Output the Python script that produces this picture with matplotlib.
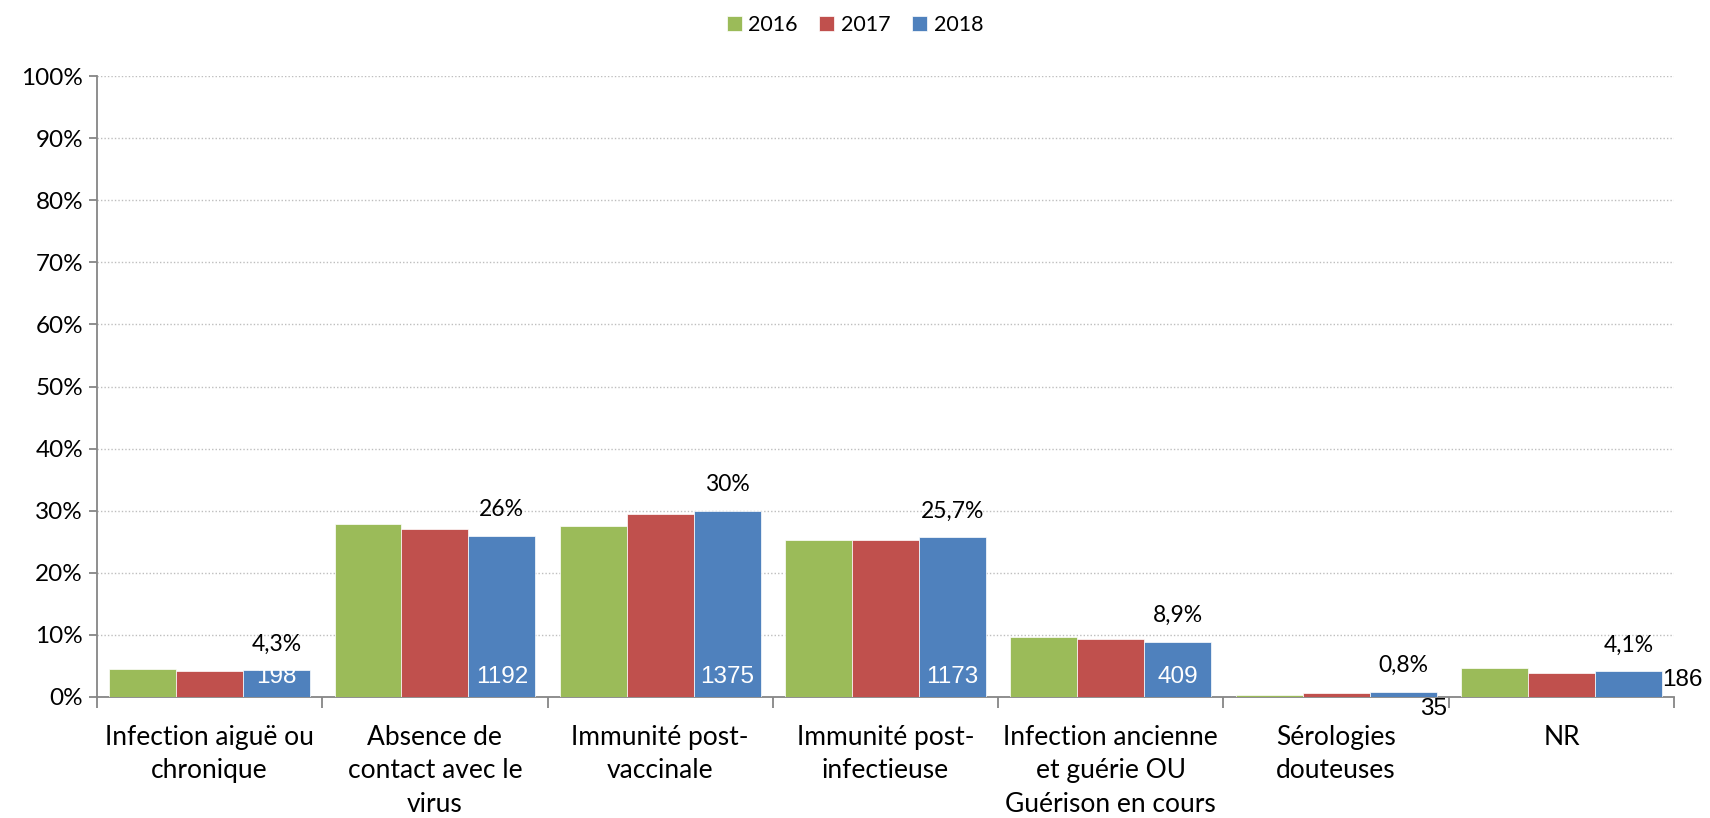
import matplotlib
matplotlib.use("Agg")
from matplotlib import pyplot as plt
import numpy as np

categories = ["Infection aiguë ou\nchronique", "Absence de\ncontact avec le\nvirus",
              "Immunité post-\nvaccinale", "Immunité post-\ninfectieuse",
              "Infection ancienne\net guérie OU\nGuérison en cours",
              "Sérologies\ndouteuses", "NR"]
years = ["2016", "2017", "2018"]
y2016 = [4.5, 27.8, 27.6, 25.2, 9.6, 0.3, 4.7]
y2017 = [4.2, 27.1, 29.5, 25.2, 9.3, 0.6, 3.8]
y2018 = [4.3, 26.0, 30.0, 25.7, 8.9, 0.8, 4.1]
pct_labels = ["4,3%", "26%", "30%", "25,7%", "8,9%", "0,8%", "4,1%"]
counts = ["198", "1192", "1375", "1173", "409", "35", "186"]

colors = ["#9BBB59", "#C0504D", "#4F81BD"]
# where the count label goes
count_pos = ["in", "in", "in", "in", "in", "below", "right"]

plt.rcParams['font.family'] = ['Lato', 'DejaVu Sans']

fig = plt.figure(figsize=(17.1, 8.18), dpi=100)
ax = fig.add_axes([0.0567, 0.148, 0.9223, 0.759])

x = np.arange(len(categories))
w = 0.297
series = [y2016, y2017, y2018]
for k in range(3):
    ax.bar(x + (k - 1) * w, series[k], w, color=colors[k], label=years[k],
           edgecolor='white', linewidth=0.5, zorder=3)

for i in range(len(categories)):
    xb = x[i] + w
    ax.annotate(pct_labels[i], (xb, y2018[i]), xytext=(0, 19),
                textcoords='offset points', ha='center', va='center', fontsize=16.5)
    if count_pos[i] == "in":
        ax.annotate(counts[i], (xb, 0), xytext=(0, 14.5), textcoords='offset points',
                    ha='center', va='center', fontsize=17.5, color='white',
                    family='Liberation Sans', zorder=5)
    elif count_pos[i] == "below":
        ax.annotate(counts[i], (xb + w / 2, 0), xytext=(-2, -9), textcoords='offset points',
                    ha='center', va='center', fontsize=17.5, family='Liberation Sans')
    else:
        ax.annotate(counts[i], (xb + w / 2, y2018[i] / 2), xytext=(0, 3),
                    textcoords='offset points', ha='left', va='center', fontsize=17.5,
                    family='Liberation Sans', annotation_clip=False)

ax.set_xlim(-0.5, len(categories) - 0.5)
ax.set_ylim(0, 100)
ax.set_yticks(np.arange(0, 101, 10))
ax.set_yticklabels([f"{v}%" for v in range(0, 101, 10)], fontsize=17.5)
ax.yaxis.grid(True, linestyle=(0, (1, 1.5)), color='#BEBEBE', linewidth=1, zorder=0)

ax.set_xticks(x)
ax.set_xticklabels(categories, fontsize=19, linespacing=1.42)
ax.tick_params(axis='x', length=0, pad=20)
ax.set_xticks(np.arange(-0.5, len(categories), 1), minor=True)
ax.tick_params(axis='x', which='minor', length=8, color='#868686', width=1.3)
ax.tick_params(axis='y', length=6, color='#868686', width=1.3, pad=4)

for s in ['top', 'right']:
    ax.spines[s].set_visible(False)
for s in ['left', 'bottom']:
    ax.spines[s].set_color('#868686')
    ax.spines[s].set_linewidth(1.3)

fig.legend(loc='upper center', bbox_to_anchor=(0.5, 1.005), ncol=3, frameon=False,
           fontsize=15.5, handlelength=0.7, handleheight=0.7, handletextpad=0.3,
           columnspacing=1.0)

fig.savefig("out.png", dpi=100)
